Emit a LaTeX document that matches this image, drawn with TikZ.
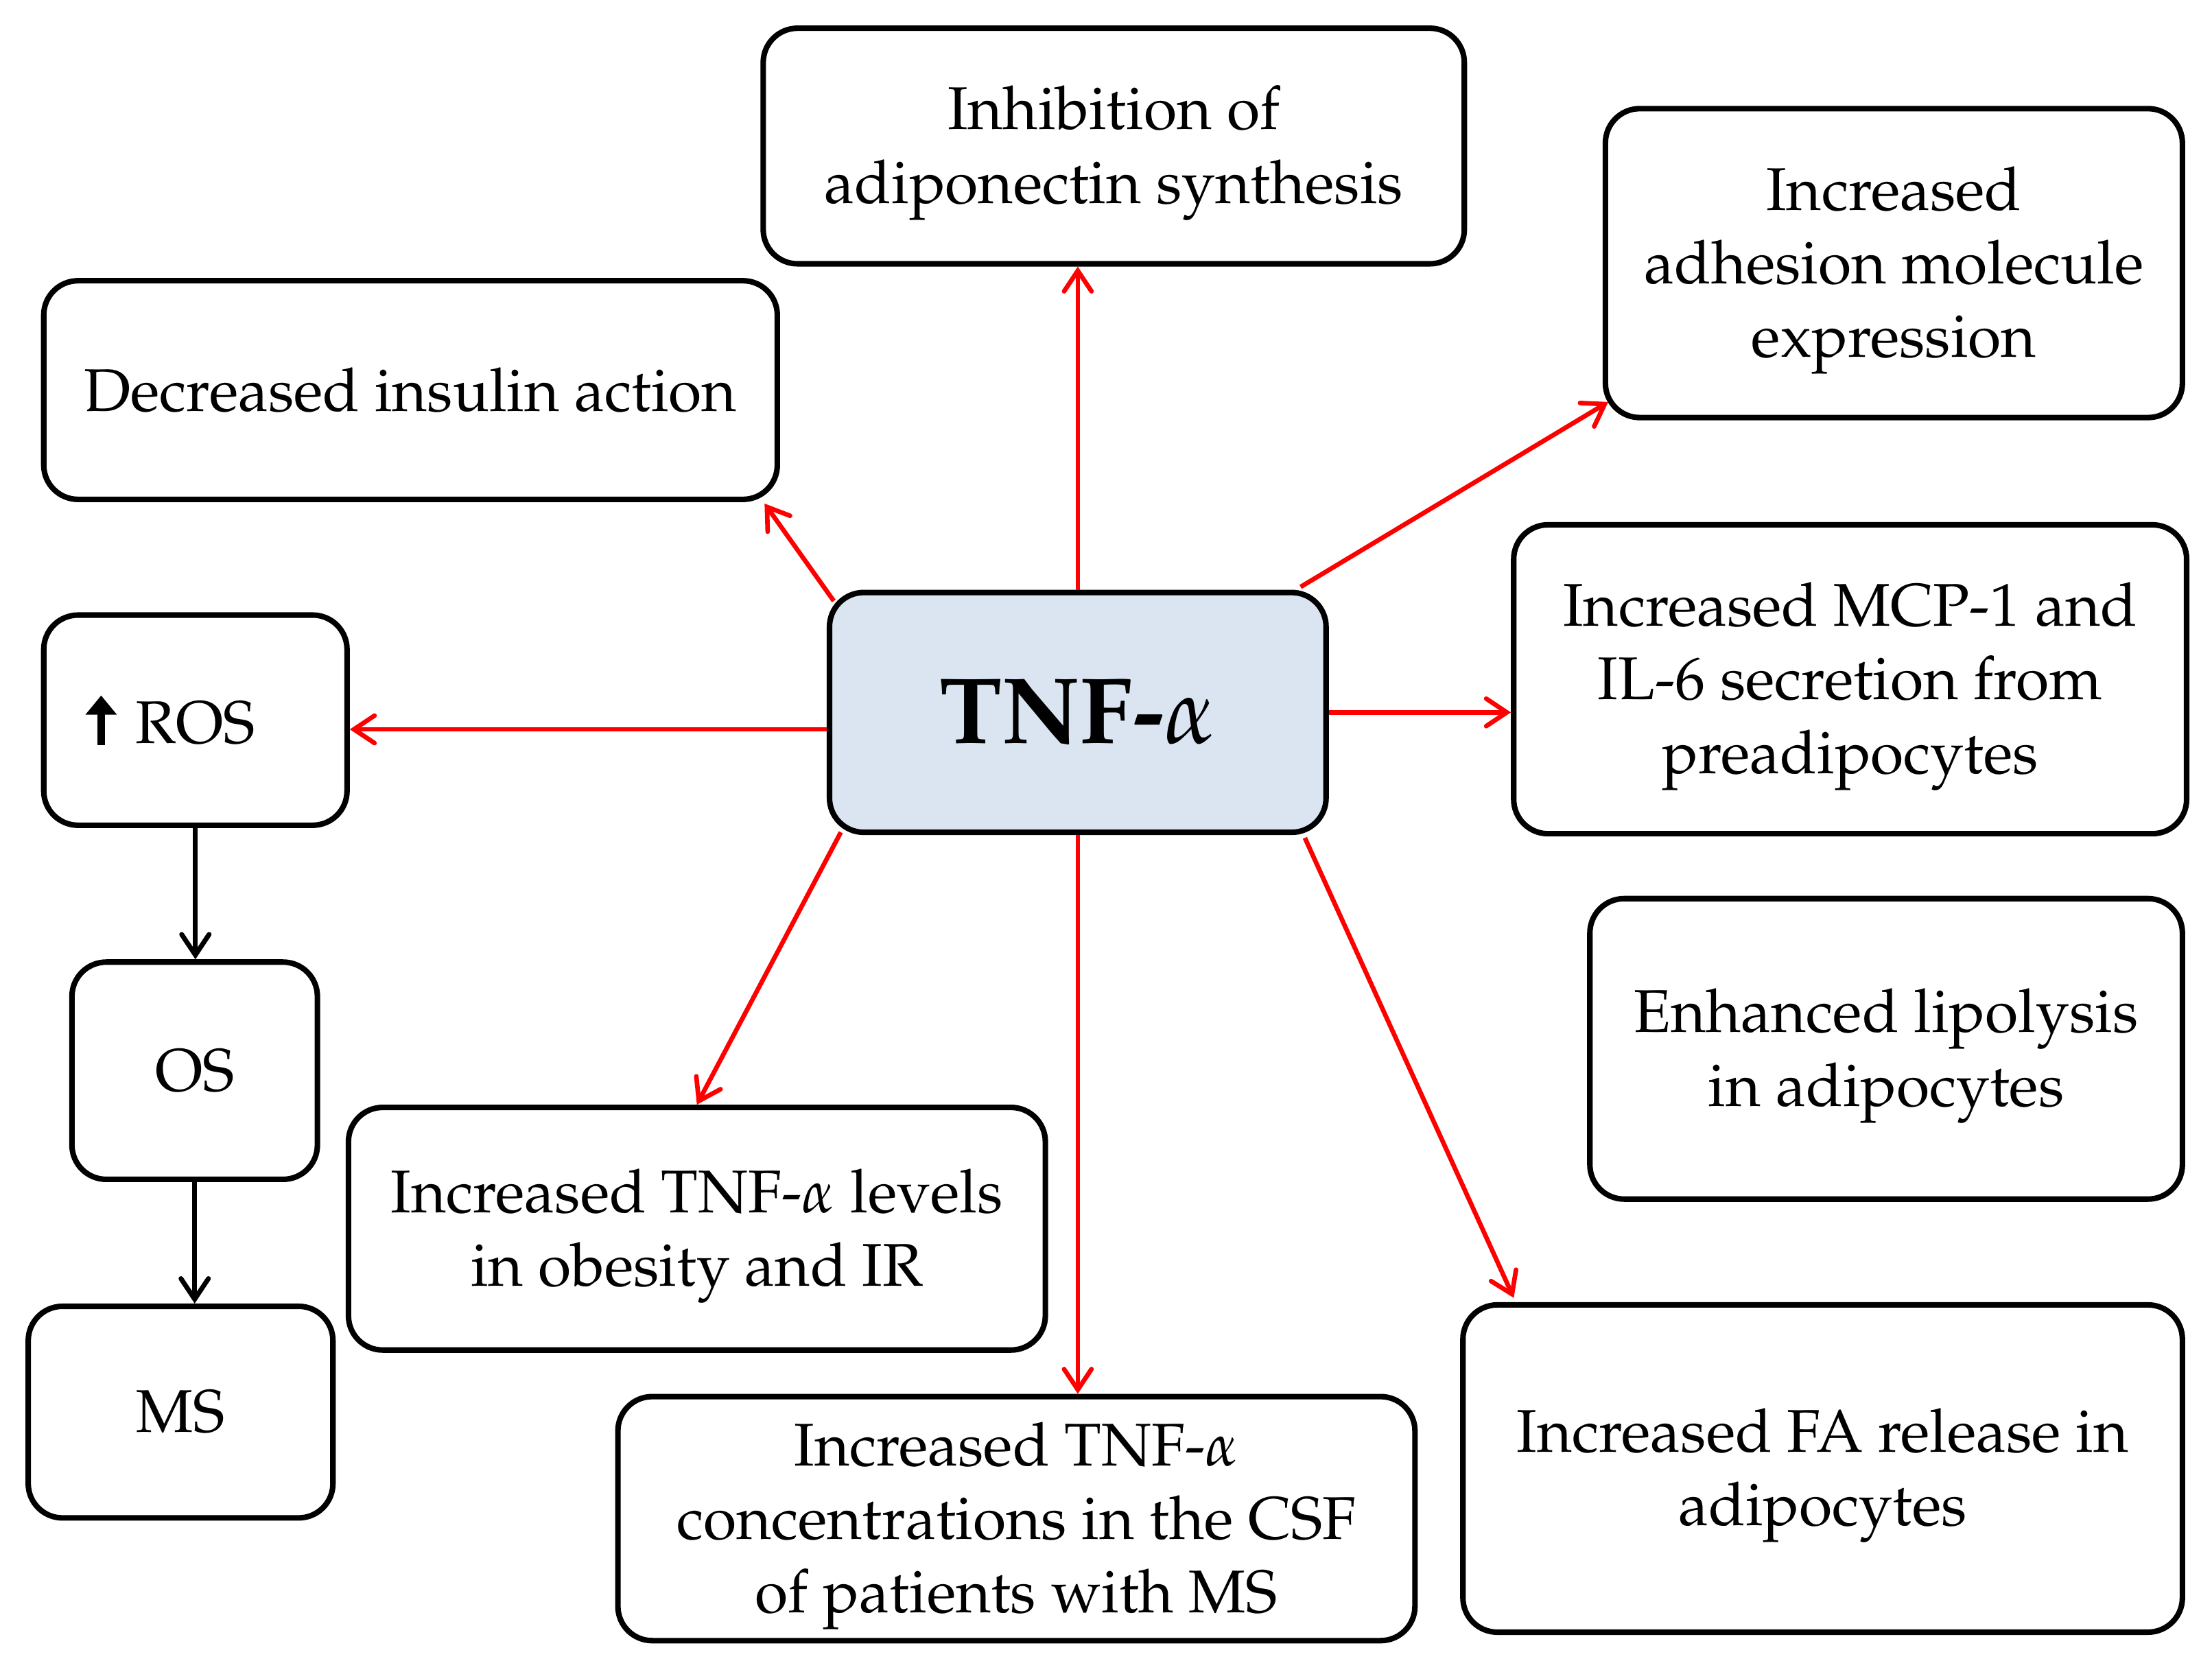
\documentclass[tikz,border=0pt]{standalone}
\usepackage[T1]{fontenc}
\usepackage{mathpazo}
\usepackage{amsmath}
\usetikzlibrary{arrows.meta}
\def\px{0.02056cm}
\newcommand\mystrut{\rule{0pt}{24pt}}
\definecolor{tnfblue}{RGB}{219,229,241}
\tikzset{
  box/.style={draw=black, line width=2.3pt, rounded corners=0.5cm, align=center,
    inner sep=0pt, font=\fontsize{25}{30.5}\selectfont},
  redarr/.style={draw=red, line width=1.9pt,
    -{Straight Barb[length=0.3cm,width=0.4cm,line cap=round]}},
  blkarr/.style={draw=black, line width=2pt,
    -{Straight Barb[length=0.3cm,width=0.4cm,line cap=round]}},
}
\begin{document}
\begin{tikzpicture}[x=\px,y=-\px]
\useasboundingbox (0,0) rectangle (1568,1185);
\fill[white] (0,0) rectangle (1568,1185);

\node[box, minimum width=497*\px, minimum height=167*\px] (inh) at (789.5,103.5)
  {\mystrut Inhibition of\\adiponectin synthesis};
\node[box, minimum width=409*\px, minimum height=219*\px] (adh) at (1342.5,186.5)
  {\mystrut Increased\\adhesion molecule\\expression};
\node[box, minimum width=520*\px, minimum height=155*\px] (dec) at (291,276.5)
  {Decreased insulin action};
\node[box, minimum height=149*\px, text width=155*\px, inner xsep=30*\px, align=left] (ros) at (138.5,510.5)
  {\tikz[baseline=0pt]\draw[line width=3pt,-{Triangle[length=0.28cm,width=0.44cm]}] (0,-0.02cm) -- (0,0.7cm);\hspace{0.28cm}ROS};
\node[box, fill=tnfblue, minimum width=352*\px, minimum height=170*\px,
  font=\fontsize{39}{46}\selectfont\bfseries] (tnf) at (764,505)
  {TNF-$\alpha$};
\node[box, minimum width=477*\px, minimum height=219*\px] (mcp) at (1311.5,481.5)
  {\mystrut Increased MCP-1 and\\IL-6 secretion from\\preadipocytes};
\node[box, minimum width=174*\px, minimum height=154*\px] (os) at (138,759)
  {OS};
\node[box, minimum width=420*\px, minimum height=213*\px] (lip) at (1337,743.5)
  {\mystrut Enhanced lipolysis\\in adipocytes};
\node[box, minimum width=494*\px, minimum height=172*\px] (obe) at (494,871)
  {\mystrut Increased TNF-$\alpha$ levels\\in obesity and IR};
\node[box, minimum width=216*\px, minimum height=150*\px] (ms) at (128,1001)
  {MS};
\node[box, minimum width=565*\px, minimum height=173*\px] (csf) at (720.5,1076.5)
  {\mystrut Increased TNF-$\alpha$\\concentrations in the CSF\\of patients with MS};
\node[box, minimum width=510*\px, minimum height=232*\px] (fa) at (1292,1041)
  {\mystrut Increased FA release in\\adipocytes};

% red arrows from TNF-alpha
\draw[redarr] ([shift={(5,8)}]tnf.north west) -- ([shift={(-11,1)}]dec.south east);
\draw[redarr] (tnf.north) -- (tnf.north |- inh.south);
\draw[redarr] ([shift={(-20,-2)}]tnf.north east) -- ([shift={(4,-13)}]adh.south west);
\coordinate (rosin) at ([shift={(0,12)}]tnf.west);
\draw[redarr] (rosin) -- (rosin -| ros.east);
\draw[redarr] (tnf.east) -- (tnf.east -| mcp.west);
\draw[redarr] ([shift={(10,-2)}]tnf.south west) -- (obe.north);
\draw[redarr] (tnf.south) -- (tnf.south |- csf.north);
\draw[redarr] ([shift={(-17,2)}]tnf.south east) -- ([shift={(38,-3)}]fa.north west);

% black chain
\draw[blkarr] (ros.south) -- (ros.south |- os.north);
\draw[blkarr] (os.south) -- (os.south |- ms.north);
\end{tikzpicture}
\end{document}
